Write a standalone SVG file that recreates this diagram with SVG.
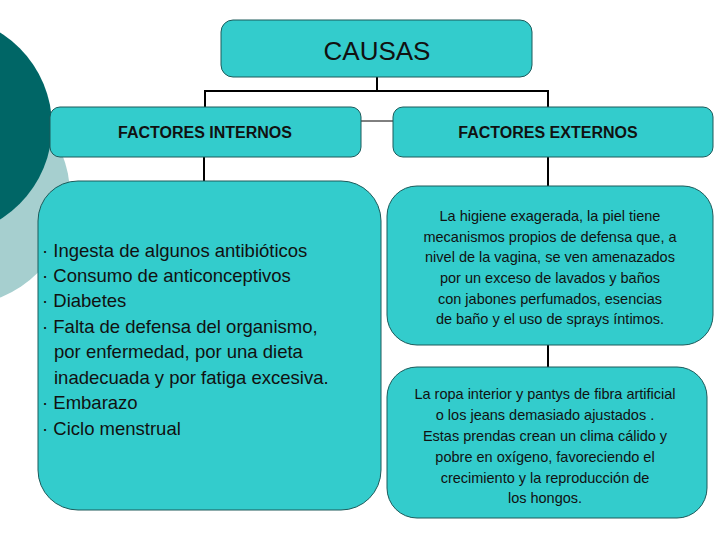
<svg xmlns="http://www.w3.org/2000/svg" width="728" height="546" viewBox="0 0 728 546">
<style>
.b{fill:#33cccc;stroke:#1c5a5a;stroke-width:1}
.t{font-family:"Liberation Sans",Arial,sans-serif;fill:#111}
.c{stroke:#000;stroke-width:2;fill:none}
</style>
<rect width="728" height="546" fill="#fff"/>
<circle cx="-40" cy="195" r="110" fill="#a6cfcf"/>
<circle cx="-58" cy="126" r="110" fill="#006666"/>
<g id="connectors">
<path class="c" d="M377 77V91M205 107V91H548V107M204 157V181M548 157V186M548 345V367"/>
<path d="M361 121H393" stroke="#000" stroke-width="1"/>
</g>
<g id="causas"><rect class="b" x="221" y="20" width="311" height="57" rx="12"/>
<text class="t" x="377" y="60" font-size="26" text-anchor="middle">CAUSAS</text></g>
<g id="fi"><rect class="b" x="50" y="107" width="311" height="50" rx="10"/>
<text class="t" x="205" y="138" font-size="16" font-weight="bold" text-anchor="middle">FACTORES INTERNOS</text></g>
<g id="fe"><rect class="b" x="393" y="107" width="320" height="50" rx="10"/>
<text class="t" x="548" y="138" font-size="16" font-weight="bold" text-anchor="middle">FACTORES EXTERNOS</text></g>
<g id="internos"><rect class="b" x="38" y="181" width="343" height="329" rx="40"/>
<text class="t" font-size="18.5"><tspan x="42" y="257">· Ingesta de algunos antibióticos</tspan><tspan x="42" y="282">· Consumo de anticonceptivos</tspan><tspan x="42" y="307">· Diabetes</tspan><tspan x="42" y="333">· Falta de defensa del organismo,</tspan><tspan x="54" y="358">por enfermedad, por una dieta</tspan><tspan x="54" y="384">inadecuada y por fatiga excesiva.</tspan><tspan x="42" y="409">· Embarazo</tspan><tspan x="42" y="435">· Ciclo menstrual</tspan></text></g>
<g id="externos1"><rect class="b" x="387" y="186" width="326" height="159" rx="30"/>
<text class="t" font-size="14.5" text-anchor="middle"><tspan x="550" y="221">La higiene exagerada, la piel tiene</tspan><tspan x="550" y="242">mecanismos propios de defensa que, a</tspan><tspan x="550" y="262">nivel de la vagina, se ven amenazados</tspan><tspan x="550" y="283">por un exceso de lavados y baños</tspan><tspan x="550" y="304">con jabones perfumados, esencias</tspan><tspan x="550" y="324">de baño y el uso de sprays íntimos.</tspan></text></g>
<g id="externos2"><rect class="b" x="387" y="367" width="320" height="151" rx="30"/>
<text class="t" font-size="14.5" text-anchor="middle"><tspan x="545" y="399">La ropa interior y pantys de fibra artificial</tspan><tspan x="545" y="420">o los jeans demasiado ajustados .</tspan><tspan x="545" y="441">Estas prendas crean un clima cálido y</tspan><tspan x="545" y="462">pobre en oxígeno, favoreciendo el</tspan><tspan x="545" y="483">crecimiento y la reproducción de</tspan><tspan x="545" y="503">los hongos.</tspan></text></g>
</svg>
